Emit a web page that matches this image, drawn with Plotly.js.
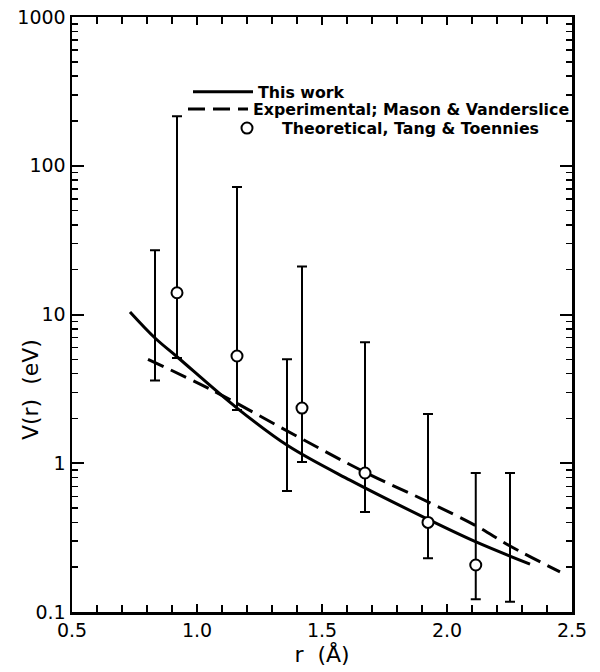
<!DOCTYPE html>
<html>
<head>
<meta charset="utf-8">
<script src="https://cdn.plot.ly/plotly-3.0.1.min.js"></script>
<style>html,body{margin:0;padding:0;background:#fff;}#chart{width:600px;height:672px;}</style>
</head>
<body>
<div id="chart"></div>
<script>
// "This work" curve
const workR = [0.732, 0.832, 0.92, 1.16, 1.364, 1.612, 1.924, 2.116, 2.332];
const workV = [10.4, 6.95, 5.2, 2.35, 1.31, 0.77, 0.42, 0.296, 0.21];
// Experimental, Mason & Vanderslice
const expR = [0.804, 1.06, 1.412, 1.672, 1.924, 2.116, 2.252, 2.452];
const expV = [5.0, 3.1, 1.48, 0.87, 0.55, 0.38, 0.278, 0.186];
// Theoretical, Tang & Toennies (circles with error bars)
const theoR = [0.92, 1.16, 1.42, 1.672, 1.924, 2.115];
const theoV = [14.0, 5.26, 2.35, 0.86, 0.40, 0.207];
const theoHi = [215, 72, 21, 6.5, 2.14, 0.86];
const theoLo = [5.1, 2.28, 1.02, 0.47, 0.23, 0.122];
// error bars without points
const barR = [0.832, 1.36, 2.252];
const barHi = [27, 5.0, 0.86];
const barLo = [3.6, 0.65, 0.117];

const yTickVals = [0.1, 1, 10, 100, 1000];
const yTickText = ['0.1', '1', '10', '100', '1000'];

const FONT = 'DejaVu Sans, sans-serif';
const LEGFONT = {family: FONT, size: 15.8, color: '#000', weight: 'bold'};

const traces = [
  {
    x: workR, y: workV, type: 'scatter', mode: 'lines', name: 'This work',
    legend: 'legend',
    line: {color: '#000', width: 3, shape: 'spline'}
  },
  {
    x: expR, y: expV, type: 'scatter', mode: 'lines', name: 'Experimental; Mason & Vanderslice',
    legend: 'legend2',
    line: {color: '#000', width: 3, dash: '17px,8px', shape: 'spline'}
  },
  {
    x: barR, y: barLo, type: 'scatter', mode: 'markers', showlegend: false,
    marker: {size: 1, color: 'rgba(0,0,0,0)'},
    error_y: {type: 'data', symmetric: false,
      array: barHi.map((h, i) => h - barLo[i]),
      arrayminus: barLo.map(() => 0),
      color: '#000', thickness: 2, width: 5}
  },
  {
    x: theoR, y: theoV, type: 'scatter', mode: 'markers', name: 'Theoretical, Tang & Toennies',
    legend: 'legend3',
    marker: {size: 11, color: '#fff', line: {color: '#000', width: 2}},
    error_y: {type: 'data', symmetric: false,
      array: theoHi.map((h, i) => h - theoV[i]),
      arrayminus: theoLo.map((l, i) => theoV[i] - l),
      color: '#000', thickness: 2, width: 5}
  }
];

const legBase = {xanchor: 'left', yanchor: 'middle', bgcolor: 'rgba(0,0,0,0)', font: LEGFONT,
  borderwidth: 0, itemwidth: 60};

const layout = {
  width: 600, height: 672,
  margin: {l: 72, r: 28, t: 17, b: 60, autoexpand: false},
  paper_bgcolor: '#fff', plot_bgcolor: '#fff',
  font: {family: FONT, color: '#000', size: 18},
  showlegend: true,
  legend: Object.assign({x: 0.232, y: 0.874}, legBase),
  legend2: Object.assign({x: 0.222, y: 0.845}, legBase),
  legend3: Object.assign({x: 0.28, y: 0.813}, legBase),
  xaxis: {
    range: [0.5, 2.5], tick0: 0.5, dtick: 0.5, tickformat: '.1f',
    ticks: 'inside', ticklen: 8, tickwidth: 2, tickcolor: '#000',
    minor: {dtick: 0.1, ticks: 'inside', ticklen: 7, tickwidth: 2, tickcolor: '#000'},
    showline: true, linewidth: 2.5, linecolor: '#000', mirror: 'allticks',
    showgrid: false, zeroline: false,
    tickfont: {size: 19},
    title: {text: 'r  (Å)', font: {size: 22}, standoff: 6}
  },
  yaxis: {
    type: 'log', range: [-1, 3], tickvals: yTickVals, ticktext: yTickText,
    ticks: 'inside', ticklen: 12, tickwidth: 2, tickcolor: '#000',
    minor: {dtick: 'D1', ticks: 'inside', ticklen: 6, tickwidth: 1.5, tickcolor: '#000'},
    showline: true, linewidth: 2.5, linecolor: '#000', mirror: 'allticks',
    showgrid: false, zeroline: false,
    tickfont: {size: 19}
  },
  annotations: [{
    text: 'V(r)  (eV)', textangle: -90, showarrow: false,
    xref: 'paper', yref: 'paper', x: -0.084, y: 0.373,
    xanchor: 'center', yanchor: 'middle',
    font: {family: FONT, size: 22, color: '#000'}
  }]
};

Plotly.newPlot('chart', traces, layout, {displayModeBar: false, staticPlot: true});
</script>
</body>
</html>
